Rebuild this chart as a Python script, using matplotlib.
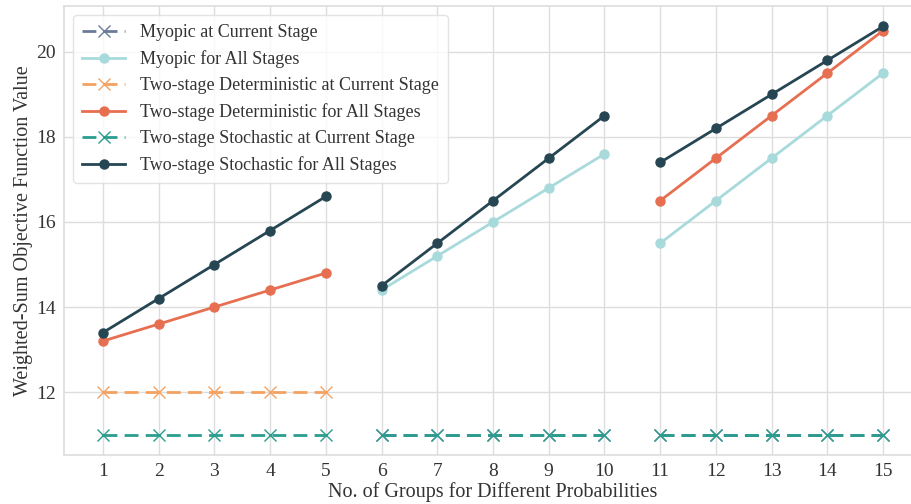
import numpy as np
import matplotlib.pyplot as plt

nan = np.nan

# x positions: three experiment groups of five
groups = list(range(1, 16))
group_slices = [slice(0, 5), slice(5, 10), slice(10, 15)]

myopic_current = [nan] * 5 + [11.0] * 10
myopic_all = [nan] * 5 + [14.4, 15.2, 16.0, 16.8, 17.6, 15.5, 16.5, 17.5, 18.5, 19.5]
det_current = [12.0] * 5 + [nan] * 10
det_all = [13.2, 13.6, 14.0, 14.4, 14.8] + [nan] * 5 + [16.5, 17.5, 18.5, 19.5, 20.5]
stoch_current = [11.0] * 15
stoch_all = [13.4, 14.2, 15.0, 15.8, 16.6,
             14.5, 15.5, 16.5, 17.5, 18.5,
             17.4, 18.2, 19.0, 19.8, 20.6]

series = [
    ("Myopic at Current Stage", myopic_current, "#6b7b9a", "current"),
    ("Myopic for All Stages", myopic_all, "#a8dadc", "all"),
    ("Two-stage Deterministic at Current Stage", det_current, "#f4a261", "current"),
    ("Two-stage Deterministic for All Stages", det_all, "#e76f51", "all"),
    ("Two-stage Stochastic at Current Stage", stoch_current, "#2a9d8f", "current"),
    ("Two-stage Stochastic for All Stages", stoch_all, "#264653", "all"),
]

plt.rcParams["font.family"] = ["Liberation Serif", "DejaVu Serif"]

fig = plt.figure(figsize=(9.12, 5.04), dpi=100)
ax = fig.add_axes([64 / 912, 49 / 504, 858 / 912, 449 / 504])

x = np.array(groups, dtype=float)
for name, vals, color, kind in series:
    y = np.array(vals, dtype=float)
    labelled = False
    for sl in group_slices:
        if np.all(np.isnan(y[sl])):
            continue
        lab = name if not labelled else "_nolegend_"
        labelled = True
        if kind == "current":
            ax.plot(x[sl], y[sl], color=color, lw=2, ls="--", dashes=(5.0, 2.6),
                    marker="x", markersize=8.5, markeredgewidth=1.0, label=lab)
        else:
            ax.plot(x[sl], y[sl], color=color, lw=2, marker="o", markersize=6.5,
                    label=lab)

ax.set_xlim(0.3, 15.7)
ax.set_ylim(10.52, 21.08)
ax.set_xticks(groups)
ax.set_yticks([12, 14, 16, 18, 20])
ax.tick_params(axis="both", length=0, labelsize=14, colors="#333333", pad=6)
ax.grid(True, color="#dddddd", lw=1)
ax.set_axisbelow(True)
for s in ax.spines.values():
    s.set_color("#dddddd")
    s.set_linewidth(1.2)
ax.spines["right"].set_visible(False)

ax.set_xlabel("No. of Groups for Different Probabilities", fontsize=14.5, color="#333333", labelpad=1)
ax.set_ylabel("Weighted-Sum Objective Function Value", fontsize=14.5, color="#333333", labelpad=2)

leg = ax.legend(loc="upper left", fontsize=13, handlelength=2.4, frameon=True,
                borderaxespad=0.5, labelspacing=0.5, borderpad=0.5)
leg.get_frame().set_edgecolor("#dddddd")
for t in leg.get_texts():
    t.set_color("#333333")

fig.savefig("out.png", dpi=100)
